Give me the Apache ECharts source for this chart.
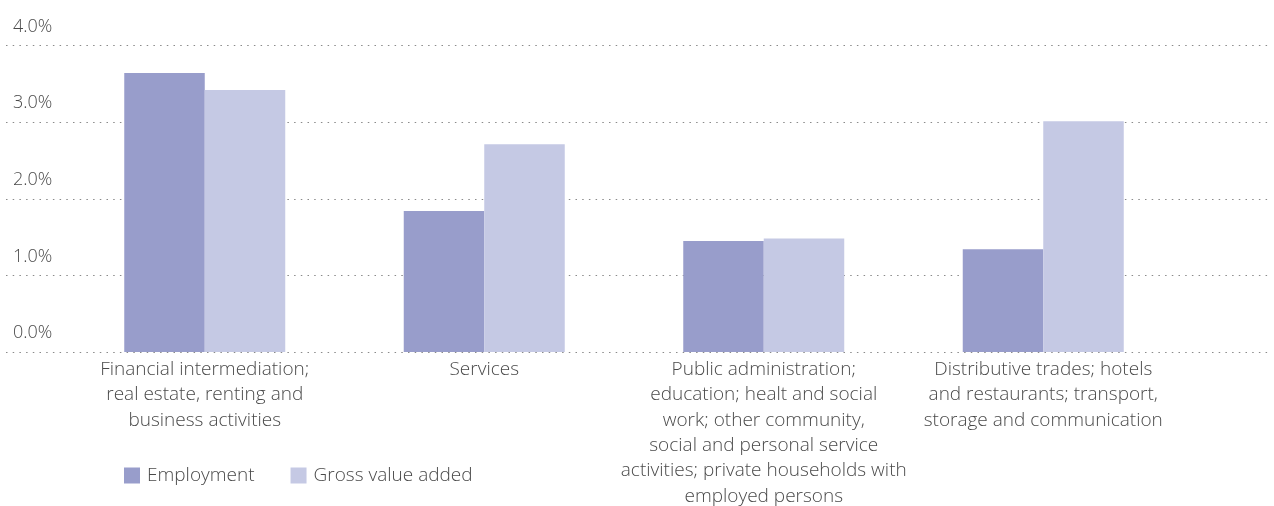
<!DOCTYPE html>
<html>
<head>
<meta charset="utf-8">
<script src="https://cdn.jsdelivr.net/npm/echarts@6/dist/echarts.min.js"></script>
<style>
  html, body { margin: 0; padding: 0; background: #fff; }
  #chart { width: 1274px; height: 506px; }
</style>
</head>
<body>
<div id="chart"></div>
<script>
// data
var categories = [
  'Financial intermediation;\nreal estate, renting and\nbusiness activities',
  'Services',
  'Public administration;\neducation; healt and social\nwork; other community,\nsocial and personal service\nactivities; private households with\nemployed persons',
  'Distributive trades; hotels\nand restaurants; transport,\nstorage and communication'
]
var employment = [3.64, 1.84, 1.45, 1.34]
var grossValueAdded = [3.42, 2.71, 1.48, 3.01]
var seriesNames = ['Employment', 'Gross value added']

var textColor = '#4a4a4a'
var fontFamily = '"Open Sans", sans-serif'

var chart = echarts.init(document.getElementById('chart'))

var option = {
  backgroundColor: '#fff',
  animation: false,
  textStyle: { fontFamily: fontFamily },
  legend: {
    left: 119,
    top: 461,
    itemWidth: 16,
    itemHeight: 16,
    itemGap: 36,
    icon: 'rect',
    data: seriesNames,
    textStyle: { color: textColor, fontSize: 19, fontWeight: 300, fontFamily: fontFamily, padding: [0, 0, 0, 2] }
  },
  grid: [
    // wide grid only for the dotted lines and labels
    { left: 6, right: 4, top: 45.5, bottom: 154, outerBoundsMode: 'none' },
    // grid holding the bars
    { left: 65, right: 91, top: 45.5, bottom: 154, outerBoundsMode: 'none' }
  ],
  xAxis: [
    { type: 'value', gridIndex: 0, show: false, min: 0, max: 1 },
    {
      type: 'category',
      gridIndex: 1,
      data: categories,
      axisLine: { show: false },
      axisTick: { show: false },
      axisLabel: {
        interval: 0,
        margin: 5,
        color: textColor,
        fontSize: 19,
        fontWeight: 300,
        lineHeight: 25.3,
        fontFamily: fontFamily
      }
    }
  ],
  yAxis: [
    {
      type: 'value',
      gridIndex: 0,
      min: 0,
      max: 4,
      interval: 1,
      axisLine: { show: false },
      axisTick: { show: false },
      splitLine: {
        show: true,
        lineStyle: { color: '#8a8a8a', width: 1.2, type: [1.5, 5.2] }
      },
      axisLabel: {
        inside: true,
        margin: 7,
        align: 'left',
        verticalAlign: 'bottom',
        lineHeight: 18,
        padding: [0, 0, 10, 0],
        color: textColor,
        fontSize: 18,
        fontWeight: 300,
        fontFamily: fontFamily,
        formatter: function (v) { return v.toFixed(1) + '%' }
      }
    },
    { type: 'value', gridIndex: 1, min: 0, max: 4, show: false }
  ],
  series: [
    {
      name: seriesNames[0],
      type: 'bar',
      xAxisIndex: 1,
      yAxisIndex: 1,
      barWidth: 80.5,
      barGap: '0%',
      itemStyle: { color: '#989dcb' },
      data: employment
    },
    {
      name: seriesNames[1],
      type: 'bar',
      xAxisIndex: 1,
      yAxisIndex: 1,
      barWidth: 80.5,
      barGap: '0%',
      itemStyle: { color: '#c5c9e4' },
      data: grossValueAdded
    }
  ]
}

chart.setOption(option)
</script>
</body>
</html>
